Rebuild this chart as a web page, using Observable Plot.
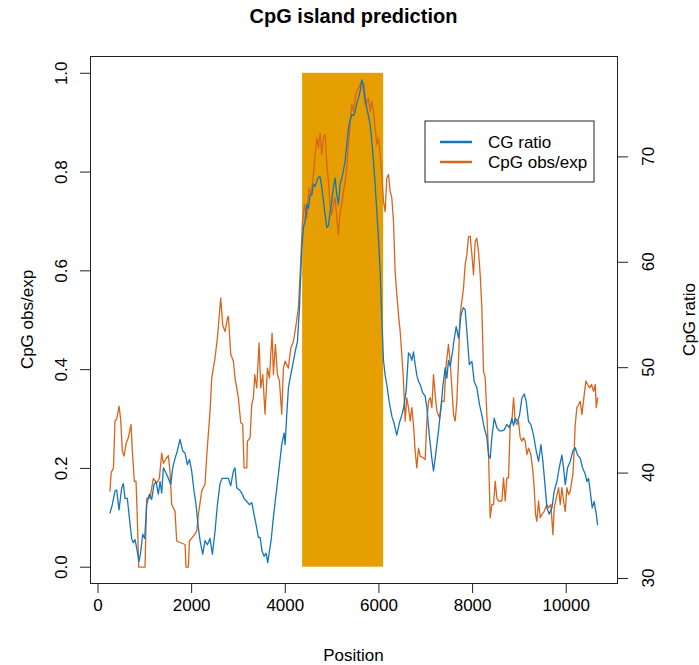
<!DOCTYPE html>
<html>
<head>
<meta charset="utf-8">
<script src="https://cdn.jsdelivr.net/npm/d3@7"></script>
<script src="https://cdn.jsdelivr.net/npm/@observablehq/plot@0.6"></script>
<style>
  html, body { margin: 0; padding: 0; background: #fff; }
  #chart { width: 699px; height: 665px; }
</style>
</head>
<body>
<div id="chart"></div>
<script>
// ---- data ----
const titleText = "CpG island prediction";
const xLabel = "Position";
const leftLabel = "CpG obs/exp";
const rightLabel = "CpG ratio";
const seriesNames = ["CG ratio", "CpG obs/exp"];

const xTicks = [0, 2000, 4000, 6000, 8000, 10000];
const leftTicks = [0, 0.2, 0.4, 0.6, 0.8, 1.0];
const rightTicks = [30, 40, 50, 60, 70];

// CG ratio value that corresponds to 0 and 1 on the left scale
const cgAtZero = 31.07;
const cgAtOne = 77.93;

// predicted island
const islandStart = 4370;
const islandEnd = 6100;

// CG ratio (right axis)
const cgPos = [256,306,363,399,449,506,541,577,627,669,719,755,791,826,876,912,955,997,1040,1097,1147,1197,1239,1289,1325,1361,1396,1453,1503,1553,1596,1645,1695,1752,1809,1859,1909,1952,2001,2051,2094,2144,2180,2237,2286,2336,2393,2443,2500,2550,2607,2650,2693,2735,2785,2835,2892,2927,2963,3020,3070,3120,3177,3234,3284,3319,3376,3426,3462,3504,3547,3590,3625,3661,3697,3746,3803,3853,3924,3974,3996,4031,4067,4103,4160,4210,4260,4303,4352,4388,4423,4459,4494,4530,4566,4601,4637,4673,4708,4744,4779,4815,4851,4886,4922,4957,4993,5029,5064,5100,5135,5171,5207,5242,5278,5314,5349,5385,5420,5456,5491,5527,5563,5598,5634,5670,5705,5741,5776,5812,5848,5883,5919,5955,5990,6026,6061,6097,6132,6168,6218,6275,6325,6382,6439,6489,6524,6581,6631,6667,6702,6738,6774,6809,6845,6880,6937,6987,7023,7080,7130,7165,7215,7272,7322,7365,7415,7450,7486,7522,7578,7590,7650,7700,7749,7800,7842,7885,7930,7985,8035,8091,8148,8198,8248,8305,8341,8376,8412,8462,8519,8576,8625,8675,8732,8789,8839,8875,8910,8960,9003,9053,9103,9145,9195,9245,9302,9359,9409,9459,9502,9552,9587,9637,9694,9744,9801,9850,9907,9943,9979,10028,10085,10142,10192,10242,10299,10349,10406,10441,10477,10512,10555,10598,10641,10670];
const cgRatio = [36.2,37.0,38.3,38.4,36.5,38.6,39.0,37.6,37.6,35.8,33.8,33.4,33.7,32.9,31.6,32.5,34.2,33.8,37.0,38.0,37.5,38.9,39.2,38.0,39.2,38.1,40.5,40.0,39.5,38.9,40.5,41.4,42.1,43.2,42.1,41.9,40.8,41.3,40.2,38.3,37.0,34.8,33.6,32.3,33.6,33.2,33.8,32.3,34.5,37.0,39.0,39.5,39.5,39.5,39.5,38.8,40.2,40.5,38.6,38.4,38.1,37.6,37.3,37.0,37.2,36.4,35.1,33.9,33.9,32.6,32.1,32.4,31.5,32.6,33.6,35.8,38.0,39.9,42.7,43.8,42.7,45.5,48.1,49.0,50.3,51.5,52.5,55.7,61.3,63.3,63.9,65.5,65.1,66.4,66.4,67.4,67.2,67.7,68.1,68.1,67.1,65.8,64.5,63.3,63.5,64.8,65.8,67.1,68.0,66.4,65.5,67.4,68.0,68.7,69.6,71.2,72.7,73.5,74.0,73.9,74.3,75.1,75.6,76.2,77.3,76.9,75.6,74.6,73.9,73.1,71.5,69.6,67.4,64.8,62.3,59.2,54.7,50.7,49.3,48.4,46.8,45.4,44.7,43.6,44.8,45.5,46.1,47.8,51.4,51.2,50.7,51.5,50.3,49.3,48.7,48.4,47.6,47.3,46.2,43.4,41.4,40.2,41.9,44.0,46.1,48.2,50.0,49.0,50.7,50.1,51.7,52.2,53.9,52.8,54.9,55.7,55.5,53.0,50.3,50.6,48.7,48.1,46.5,45.5,44.3,43.4,41.7,41.4,43.4,45.2,44.3,44.0,44.0,44.1,44.6,44.3,45.2,44.5,45.2,44.9,45.5,47.1,47.5,46.8,44.9,44.6,43.6,42.1,41.1,42.7,41.1,38.6,36.7,36.1,36.7,38.3,39.2,40.5,41.7,40.5,38.9,40.5,41.1,42.1,42.4,41.7,41.4,40.5,39.9,39.2,39.5,38.3,36.7,37.3,36.1,35.1];

// CpG observed / expected (left axis)
const oePos = [256,280,292,330,363,400,449,484,520,556,598,648,705,734,776,812,840,869,1004,1040,1111,1182,1254,1311,1361,1396,1453,1503,1538,1574,1645,1681,1859,1880,1930,1952,2037,2108,2144,2215,2286,2322,2393,2429,2500,2550,2621,2664,2714,2764,2785,2835,2892,2927,2998,3049,3091,3120,3177,3191,3248,3284,3319,3348,3390,3440,3476,3519,3568,3618,3661,3718,3746,3789,3832,3875,3924,3960,3996,4067,4117,4174,4231,4281,4330,4366,4409,4459,4508,4551,4601,4637,4673,4708,4744,4779,4815,4851,4886,4922,4957,4993,5029,5064,5100,5135,5171,5207,5242,5278,5314,5349,5385,5420,5456,5491,5527,5563,5598,5634,5670,5705,5741,5776,5812,5848,5883,5919,5955,5990,6026,6062,6097,6133,6168,6204,6240,6275,6311,6346,6382,6417,6453,6488,6524,6560,6595,6631,6667,6702,6738,6774,6809,6845,6881,6952,6987,7023,7059,7094,7130,7165,7201,7237,7294,7343,7393,7436,7485,7521,7557,7593,7628,7664,7699,7735,7771,7806,7842,7878,7913,7949,7985,8020,8056,8091,8127,8163,8198,8234,8270,8305,8341,8376,8412,8448,8483,8519,8555,8625,8661,8697,8732,8768,8803,8839,8875,8910,8946,8981,9017,9053,9088,9124,9160,9195,9245,9288,9316,9345,9373,9409,9444,9480,9530,9587,9623,9672,9715,9744,9786,9836,9872,9907,9943,9979,10014,10050,10085,10142,10171,10192,10228,10263,10299,10335,10385,10420,10456,10498,10541,10584,10620,10641,10670];
const obsExp = [0.154,0.19,0.194,0.20,0.296,0.30,0.326,0.30,0.235,0.225,0.25,0.262,0.289,0.235,0.174,0.174,0.10,0.0,0.0,0.14,0.14,0.18,0.17,0.18,0.231,0.21,0.22,0.226,0.194,0.127,0.113,0.053,0.046,0.0,0.0,0.053,0.063,0.073,0.107,0.154,0.168,0.225,0.316,0.383,0.424,0.464,0.545,0.49,0.477,0.504,0.508,0.431,0.417,0.383,0.343,0.292,0.29,0.201,0.201,0.255,0.262,0.33,0.343,0.39,0.363,0.454,0.363,0.39,0.31,0.403,0.383,0.474,0.39,0.451,0.39,0.377,0.31,0.403,0.417,0.403,0.444,0.457,0.491,0.525,0.62,0.70,0.734,0.707,0.768,0.754,0.795,0.835,0.869,0.849,0.879,0.835,0.869,0.876,0.815,0.781,0.734,0.714,0.734,0.748,0.707,0.673,0.72,0.734,0.761,0.781,0.808,0.856,0.896,0.937,0.923,0.95,0.964,0.97,0.977,0.984,0.964,0.937,0.943,0.95,0.923,0.943,0.923,0.889,0.856,0.869,0.835,0.795,0.741,0.72,0.788,0.795,0.761,0.748,0.70,0.60,0.552,0.512,0.478,0.43,0.377,0.296,0.343,0.323,0.296,0.323,0.289,0.235,0.201,0.241,0.225,0.221,0.218,0.296,0.336,0.343,0.323,0.39,0.35,0.316,0.302,0.336,0.336,0.41,0.451,0.417,0.363,0.309,0.296,0.336,0.417,0.512,0.539,0.565,0.613,0.633,0.67,0.67,0.633,0.592,0.66,0.666,0.639,0.592,0.525,0.397,0.383,0.309,0.228,0.10,0.127,0.127,0.174,0.14,0.134,0.134,0.181,0.134,0.181,0.181,0.289,0.296,0.343,0.296,0.289,0.296,0.262,0.255,0.262,0.255,0.228,0.241,0.228,0.194,0.161,0.107,0.093,0.134,0.10,0.107,0.113,0.127,0.12,0.127,0.066,0.12,0.14,0.161,0.127,0.161,0.134,0.113,0.161,0.147,0.154,0.188,0.241,0.289,0.323,0.329,0.336,0.309,0.35,0.377,0.37,0.363,0.37,0.356,0.37,0.323,0.343];

// ---- styling ----
const BLUE = "#1576B8";
const ORANGE = "#D9641C";
const GOLD = "#E69F00";
const FONT = "'Liberation Sans', Arial, Helvetica, sans-serif";

const toLeft = cg => (cg - cgAtZero) / (cgAtOne - cgAtZero);
const fromLeft = v => cgAtZero + v * (cgAtOne - cgAtZero);

const cgData = cgPos.map((p, i) => ({pos: p, v: toLeft(cgRatio[i])}));
const oeData = oePos.map((p, i) => ({pos: p, v: obsExp[i]}));
const islandData = [{x1: islandStart, x2: islandEnd, y1: 0, y2: 1}];

const W = 699, H = 665;
const mL = 90, mR = 82, mT = 56, mB = 82;

const chart = Plot.plot({
  width: W,
  height: H,
  marginLeft: mL,
  marginRight: mR,
  marginTop: mT,
  marginBottom: mB,
  style: {fontFamily: FONT, fontSize: "17px", background: "#fff", color: "#000"},
  x: {domain: [-160, 11095]},
  y: {domain: [-0.033, 1.034]},
  marks: [
    Plot.rect(islandData, {x1: "x1", x2: "x2", y1: "y1", y2: "y2", fill: GOLD}),
    Plot.line(oeData, {x: "pos", y: "v", stroke: ORANGE, strokeWidth: 1.3}),
    Plot.line(cgData, {x: "pos", y: "v", stroke: BLUE, strokeWidth: 1.3}),
    Plot.frame({stroke: "#222", strokeWidth: 1}),
    Plot.axisX(xTicks, {anchor: "bottom", tickSize: 10, tickPadding: 5, tickFormat: d3.format("d"), label: null, stroke: "#222"}),
    Plot.axisY(leftTicks, {anchor: "left", tickSize: 10, tickRotate: -90, tickPadding: 14, tickFormat: d3.format(".1f"), label: null, stroke: "#222"}),
    Plot.axisY(rightTicks.map(toLeft), {anchor: "right", tickSize: 10, tickFormat: () => "", label: null, stroke: "#222"})
  ]
});

document.getElementById("chart").appendChild(chart);

// ---- right-axis tick labels, title, axis titles and legend ----
const svg = d3.select(chart);
const yScale = chart.scale("y");
const plotCx = mL + (W - mL - mR) / 2;
const plotCy = mT + (H - mT - mB) / 2;

rightTicks.forEach(t => {
  svg.append("text")
    .attr("transform", `translate(648.5,${yScale.apply(toLeft(t))}) rotate(-90)`)
    .attr("text-anchor", "middle").attr("dy", "0.35em")
    .style("font-family", FONT).style("font-size", "17px")
    .attr("fill", "#000")
    .text(String(t));
});

svg.append("text")
  .attr("x", plotCx).attr("y", 23)
  .attr("text-anchor", "middle")
  .style("font-family", FONT).style("font-size", "20px").style("font-weight", "bold")
  .attr("fill", "#000")
  .text(titleText);

svg.append("text")
  .attr("x", plotCx).attr("y", 661)
  .attr("text-anchor", "middle")
  .style("font-family", FONT).style("font-size", "17px")
  .attr("fill", "#000")
  .text(xLabel);

svg.append("text")
  .attr("transform", `translate(27,${plotCy}) rotate(-90)`)
  .attr("text-anchor", "middle").attr("dy", "0.35em")
  .style("font-family", FONT).style("font-size", "17px")
  .attr("fill", "#000")
  .text(leftLabel);

svg.append("text")
  .attr("transform", `translate(689,${plotCy}) rotate(-90)`)
  .attr("text-anchor", "middle").attr("dy", "0.35em")
  .style("font-family", FONT).style("font-size", "17px")
  .attr("fill", "#000")
  .text(rightLabel);

const lg = svg.append("g");
lg.append("rect")
  .attr("x", 425).attr("y", 121).attr("width", 169).attr("height", 61)
  .attr("fill", "#fff").attr("stroke", "#222").attr("stroke-width", 1);
[BLUE, ORANGE].forEach((c, i) => {
  const yy = 142 + i * 20;
  lg.append("line").attr("x1", 440).attr("x2", 472).attr("y1", yy).attr("y2", yy)
    .attr("stroke", c).attr("stroke-width", 2.5);
  lg.append("text").attr("x", 488).attr("y", yy).attr("dy", "0.35em")
    .attr("text-anchor", "start")
    .style("font-family", FONT).style("font-size", "17px").attr("fill", "#000")
    .text(seriesNames[i]);
});
</script>
</body>
</html>
